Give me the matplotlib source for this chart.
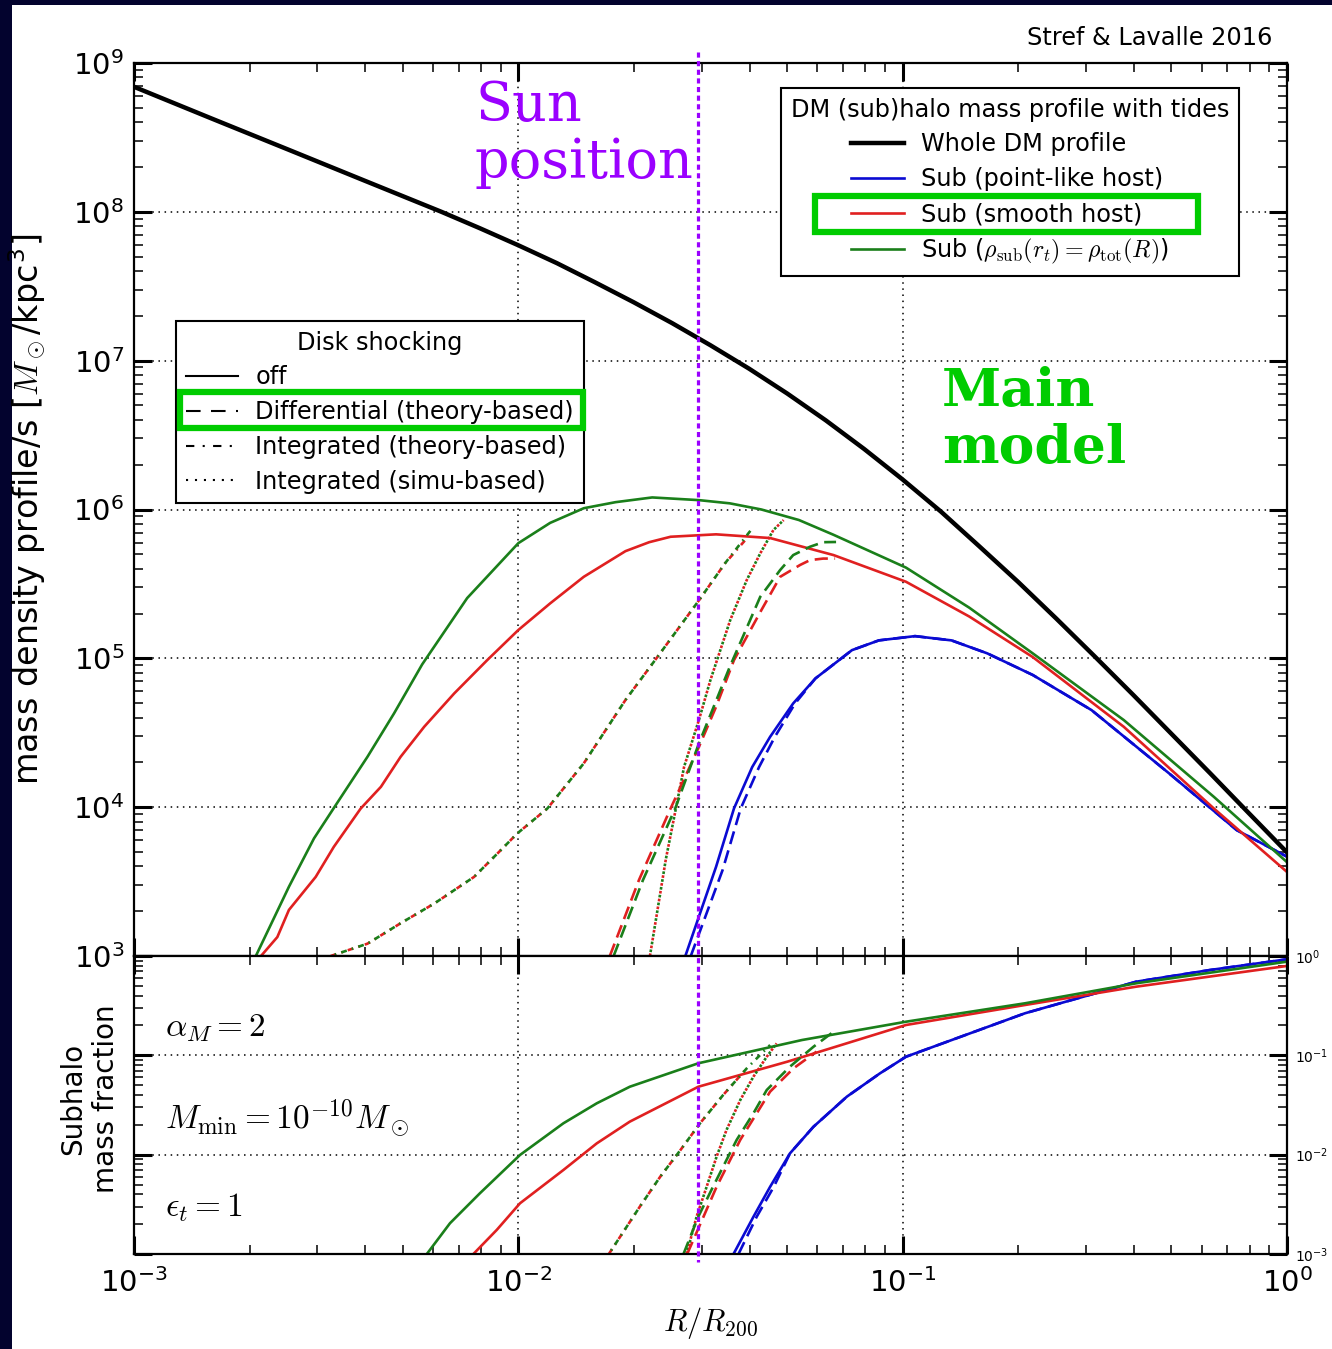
import matplotlib
matplotlib.use('Agg')
import matplotlib.pyplot as plt
import matplotlib.transforms as mtransforms
from matplotlib.patches import Rectangle
from matplotlib.lines import Line2D

plt.rcParams['font.family'] = ['DejaVu Sans']
plt.rcParams['mathtext.fontset'] = 'cm'

# ---------------- data (x = R/R200) ----------------
sun_position = 0.0294

# top panel: mass density profiles [Msun/kpc^3]
whole_x = [0.001, 0.00158, 0.00251, 0.00398, 0.00631, 0.00794, 0.01, 0.0126, 0.0158,
           0.01995, 0.0251, 0.0316, 0.0398, 0.0501, 0.0631, 0.0794, 0.1, 0.126, 0.158,
           0.1995, 0.251, 0.316, 0.398, 0.501, 0.631, 0.794, 1.0]
whole_y = [6.92e8, 4.27e8, 2.63e8, 1.62e8, 1.0e8, 7.76e7, 5.96e7, 4.52e7, 3.37e7,
           2.47e7, 1.79e7, 1.27e7, 8.85e6, 6.01e6, 3.97e6, 2.55e6, 1.59e6, 9.64e5, 5.68e5,
           3.27e5, 1.85e5, 1.03e5, 5.68e4, 3.10e4, 1.69e4, 9.16e3, 4.97e3]

green_x = [2.075e-3, 2.53e-3, 2.94e-3, 3.31e-3, 4.05e-3, 4.75e-3, 5.62e-3, 7.36e-3, 1.0e-2,
           1.21e-2, 1.48e-2, 1.79e-2, 2.23e-2, 2.95e-2, 3.55e-2, 4.29e-2, 5.37e-2, 6.61e-2,
           0.102, 0.149, 0.218, 0.376, 0.646, 1.0]
green_y = [1.0e3, 2.92e3, 6.17e3, 9.86e3, 2.18e4, 4.27e4, 9.1e4, 2.54e5, 5.94e5,
           8.13e5, 1.02e6, 1.12e6, 1.205e6, 1.156e6, 1.10e6, 1.0e6, 8.5e5, 6.76e5,
           4.07e5, 2.19e5, 1.08e5, 3.85e4, 1.17e4, 4.27e3]

red_x = [2.14e-3, 2.36e-3, 2.53e-3, 2.97e-3, 3.31e-3, 3.89e-3, 4.39e-3, 4.94e-3, 5.69e-3,
         6.81e-3, 8.30e-3, 1.0e-2, 1.21e-2, 1.48e-2, 1.90e-2, 2.19e-2, 2.49e-2, 3.27e-2,
         4.52e-2, 6.61e-2, 0.102, 0.149, 0.218, 0.376, 0.646, 1.0]
red_y = [1.0e3, 1.34e3, 2.04e3, 3.40e3, 5.41e3, 9.8e3, 1.37e4, 2.18e4, 3.47e4,
         5.81e4, 9.73e4, 1.55e5, 2.34e5, 3.53e5, 5.25e5, 6.03e5, 6.56e5, 6.81e5,
         6.43e5, 4.94e5, 3.27e5, 1.91e5, 1.02e5, 3.47e4, 9.77e3, 3.67e3]

blue_x = [2.72e-2, 3.27e-2, 3.64e-2, 4.06e-2, 4.52e-2, 5.19e-2, 5.93e-2, 7.38e-2, 8.67e-2,
          0.1077, 0.134, 0.166, 0.218, 0.310, 0.493, 0.740, 1.0]
blue_y = [1.0e3, 3.98e3, 9.8e3, 1.86e4, 2.97e4, 4.98e4, 7.33e4, 1.135e5, 1.32e5,
          1.41e5, 1.32e5, 1.08e5, 7.73e4, 4.49e4, 1.69e4, 7.01e3, 4.65e3]

blue_diff_x = [2.81e-2, 3.40e-2, 3.79e-2, 4.23e-2, 4.65e-2, 5.25e-2, 5.93e-2, 7.38e-2,
               8.67e-2, 0.1077, 0.134, 0.166, 0.218, 0.310, 0.493, 0.740, 1.0]
blue_diff_y = [1.0e3, 3.78e3, 9.8e3, 1.86e4, 2.97e4, 4.98e4, 7.33e4, 1.135e5,
               1.32e5, 1.41e5, 1.32e5, 1.08e5, 7.73e4, 4.49e4, 1.69e4, 7.01e3, 4.65e3]

red_diff_x = [1.73e-2, 2.06e-2, 2.49e-2, 2.95e-2, 3.27e-2, 3.64e-2, 4.29e-2, 4.80e-2,
              5.41e-2, 5.74e-2, 6.21e-2, 6.67e-2]
red_diff_y = [1.0e3, 3.24e3, 9.8e3, 2.54e4, 4.73e4, 9.73e4, 2.11e5, 3.53e5,
              4.24e5, 4.57e5, 4.68e5, 4.68e5]

green_diff_x = [1.77e-2, 2.11e-2, 2.56e-2, 2.95e-2, 3.55e-2, 4.26e-2, 4.80e-2, 5.19e-2,
                5.74e-2, 6.21e-2, 6.71e-2]
green_diff_y = [1.0e3, 3.24e3, 9.8e3, 2.68e4, 8.77e4, 2.59e5, 3.92e5, 4.94e5,
                5.62e5, 6.03e5, 6.05e5]

green_int_x = [3.25e-3, 4.05e-3, 4.94e-3, 6.04e-3, 7.67e-3, 9.0e-3, 9.93e-3, 1.19e-2,
               1.48e-2, 1.90e-2, 2.30e-2, 2.95e-2, 3.45e-2, 4.06e-2]
green_int_y = [1.0e3, 1.21e3, 1.66e3, 2.25e3, 3.40e3, 5.14e3, 6.65e3, 9.8e3,
               1.97e4, 5.25e4, 1.02e5, 2.45e5, 4.35e5, 7.46e5]
red_int_x = [3.25e-3, 4.05e-3, 4.94e-3, 6.04e-3, 7.67e-3, 9.0e-3, 9.93e-3, 1.19e-2,
             1.48e-2, 1.90e-2, 2.30e-2, 2.95e-2, 3.45e-2, 3.93e-2]
red_int_y = [1.0e3, 1.21e3, 1.66e3, 2.25e3, 3.40e3, 5.14e3, 6.65e3, 9.8e3,
             1.97e4, 5.25e4, 1.02e5, 2.45e5, 4.35e5, 6.4e5]

simu_x = [2.20e-2, 2.42e-2, 2.70e-2, 2.95e-2, 3.16e-2, 3.56e-2, 3.93e-2, 4.26e-2,
          4.61e-2, 4.90e-2]
simu_y = [1.0e3, 4.47e3, 1.87e4, 3.85e4, 7.13e4, 1.81e5, 3.36e5, 5.07e5,
          7.28e5, 8.49e5]

# bottom panel: subhalo mass fraction
green_fx = [5.78e-3, 6.64e-3, 7.94e-3, 1.01e-2, 1.31e-2, 1.60e-2, 1.95e-2, 2.94e-2,
            5.47e-2, 0.102, 0.208, 0.405, 1.0]
green_fy = [1.0e-3, 2.04e-3, 4.08e-3, 9.93e-3, 2.07e-2, 3.29e-2, 4.83e-2, 8.32e-2,
            0.1426, 0.218, 0.334, 0.531, 0.877]

red_fx = [7.64e-3, 8.79e-3, 1.01e-2, 1.31e-2, 1.60e-2, 1.95e-2, 2.94e-2, 5.01e-2,
          0.102, 0.208, 0.405, 1.0]
red_fy = [1.0e-3, 1.75e-3, 3.24e-3, 7.01e-3, 1.30e-2, 2.15e-2, 4.83e-2, 8.63e-2,
          0.202, 0.321, 0.491, 0.794]

blue_fx = [3.63e-2, 4.09e-2, 4.52e-2, 5.09e-2, 5.86e-2, 7.16e-2, 8.73e-2, 0.102,
           0.208, 0.405, 0.631, 1.0]
blue_fy = [1.0e-3, 2.37e-3, 4.75e-3, 1.03e-2, 1.91e-2, 3.84e-2, 6.59e-2, 9.68e-2,
           0.265, 0.551, 0.723, 0.927]

blue_diff_fx = [3.74e-2, 4.17e-2, 4.62e-2, 5.09e-2, 5.86e-2, 7.16e-2, 8.73e-2, 0.102,
                0.208, 0.405, 0.631, 1.0]
blue_diff_fy = [1.0e-3, 2.37e-3, 4.75e-3, 1.03e-2, 1.91e-2, 3.84e-2, 6.59e-2, 9.68e-2,
                0.265, 0.551, 0.723, 0.927]

green_diff_fx = [2.69e-2, 2.94e-2, 3.21e-2, 3.48e-2, 3.70e-2, 4.09e-2, 4.43e-2, 5.09e-2,
                 5.86e-2, 6.61e-2]
green_diff_fy = [1.0e-3, 2.38e-3, 4.75e-3, 8.83e-3, 1.41e-2, 2.61e-2, 4.48e-2, 7.69e-2,
                 0.122, 0.173]

red_diff_fx = [2.75e-2, 3.28e-2, 3.78e-2, 4.52e-2, 5.20e-2, 5.97e-2]
red_diff_fy = [1.0e-3, 4.75e-3, 1.41e-2, 4.31e-2, 7.40e-2, 0.109]

green_int_fx = [1.72e-2, 2.07e-2, 2.34e-2, 2.64e-2, 2.97e-2, 3.41e-2, 3.93e-2, 4.52e-2]
green_int_fy = [1.0e-3, 2.99e-3, 6.0e-3, 1.11e-2, 2.07e-2, 3.98e-2, 7.40e-2, 0.127]
red_int_fx = [1.72e-2, 2.07e-2, 2.34e-2, 2.64e-2, 2.97e-2, 3.41e-2, 3.93e-2]
red_int_fy = [1.0e-3, 2.99e-3, 6.0e-3, 1.11e-2, 2.07e-2, 3.98e-2, 7.40e-2]

simu_fx = [2.74e-2, 2.91e-2, 3.09e-2, 3.28e-2, 3.48e-2, 3.78e-2, 4.09e-2, 4.43e-2, 4.70e-2]
simu_fy = [1.0e-3, 2.38e-3, 4.75e-3, 9.55e-3, 1.77e-2, 3.55e-2, 6.10e-2, 9.68e-2, 0.132]

# ---------------- styles ----------------
c_blue = '#0a0ad2'
c_red = '#e02020'
c_green = '#1a7f1a'
c_sun = '#9a00ff'
c_hl = '#00cc00'
ls_diff = (0, (5, 2.5))
ls_int = (0, (2.2, 2, 0.6, 2))
ls_int2 = (2.6, (2.2, 2, 0.6, 2))
lw = 1.9
fs_leg = 17.3

W, H = 1332, 1349
fig = plt.figure(figsize=(W / 100, H / 100), dpi=100)
fig.patch.set_facecolor('#03032e')
fig.add_artist(Rectangle((12 / W, 0), 1 - 12 / W, 1 - 5 / H, transform=fig.transFigure,
                         facecolor='white', edgecolor='none', zorder=-10))

left = 134 / W
width = (1287 - 134) / W
ax = fig.add_axes([left, 1 - 956 / H, width, 893 / H])
axb = fig.add_axes([left, 1 - 1254 / H, width, 298 / H], sharex=ax)

# top panel curves
ax.plot(whole_x, whole_y, color='k', lw=3.2)
ax.plot(blue_x, blue_y, color=c_blue, lw=lw)
ax.plot(blue_diff_x, blue_diff_y, color=c_blue, lw=lw, ls=ls_diff)
ax.plot(red_x, red_y, color=c_red, lw=lw)
ax.plot(green_x, green_y, color=c_green, lw=lw)
ax.plot(red_int_x, red_int_y, color=c_red, lw=lw, ls=ls_int)
ax.plot(green_int_x, green_int_y, color=c_green, lw=lw, ls=ls_int2)
ax.plot(simu_x, simu_y, color=c_red, lw=lw, ls=(0, (1, 2)))
ax.plot(simu_x, simu_y, color=c_green, lw=lw, ls=(1.5, (1, 2)))
ax.plot(red_diff_x, red_diff_y, color=c_red, lw=lw, ls=ls_diff)
ax.plot(green_diff_x, green_diff_y, color=c_green, lw=lw, ls=ls_diff)

# bottom panel curves
axb.plot(blue_fx, blue_fy, color=c_blue, lw=lw)
axb.plot(blue_diff_fx, blue_diff_fy, color=c_blue, lw=lw, ls=ls_diff)
axb.plot(red_fx, red_fy, color=c_red, lw=lw)
axb.plot(green_fx, green_fy, color=c_green, lw=lw)
axb.plot(red_int_fx, red_int_fy, color=c_red, lw=lw, ls=ls_int)
axb.plot(green_int_fx, green_int_fy, color=c_green, lw=lw, ls=ls_int2)
axb.plot(simu_fx, simu_fy, color=c_red, lw=lw, ls=(0, (1, 2)))
axb.plot(simu_fx, simu_fy, color=c_green, lw=lw, ls=(1.5, (1, 2)))
axb.plot(red_diff_fx, red_diff_fy, color=c_red, lw=lw, ls=ls_diff)
axb.plot(green_diff_fx, green_diff_fy, color=c_green, lw=lw, ls=ls_diff)

for a in (ax, axb):
    a.set_xscale('log')
    a.set_yscale('log')
    a.grid(True, which='major', color='k', ls=(0, (1, 3)), lw=1.1)
    a.tick_params(which='both', direction='in', top=True, right=True)
    a.tick_params(which='major', length=13, width=2.2)
    a.tick_params(which='minor', length=6.5, width=1.1)
    for s in a.spines.values():
        s.set_linewidth(1.6)

ax.set_xlim(1e-3, 1)
ax.set_ylim(1e3, 1e9)
axb.set_ylim(1e-3, 1)

ax.tick_params(axis='x', labelbottom=False)
ax.tick_params(axis='y', labelsize=21, pad=7)
axb.tick_params(axis='x', labelsize=21, pad=10)
axb.tick_params(axis='y', labelleft=False, labelright=True, labelsize=10, pad=6)

ax.set_ylabel(r'mass density profile/s [$M_\odot$/kpc$^{\mathdefault{3}}$]', fontsize=24)
ax.yaxis.set_label_coords(-0.075, 0.5)
axb.set_ylabel('Subhalo\nmass fraction', fontsize=20, linespacing=1.25)
axb.yaxis.set_label_coords(-0.012, 0.52)
axb.set_xlabel(r'$R/R_{200}$', fontsize=22)
axb.xaxis.set_label_coords(0.5, -0.17)

# sun position line across both panels
tr = mtransforms.blended_transform_factory(ax.transData, fig.transFigure)
fig.add_artist(Line2D([sun_position, sun_position], [1 - 52 / H, 1 - 1262 / H], transform=tr,
                      color=c_sun, lw=2.3, ls=(0, (1.6, 1.1)), zorder=8))

# legends
h1 = [Line2D([], [], color='k', lw=3.2), Line2D([], [], color=c_blue, lw=lw),
      Line2D([], [], color=c_red, lw=lw), Line2D([], [], color=c_green, lw=lw)]
l1 = ['Whole DM profile', 'Sub (point-like host)', 'Sub (smooth host)',
      r'Sub ($\rho_{\rm sub}(r_t) = \rho_{\rm tot}(R)$)']
leg1 = ax.legend(h1, l1, title='DM (sub)halo mass profile with tides', loc='upper left',
                 bbox_to_anchor=(781 / W, 1 - 88 / H), bbox_transform=fig.transFigure,
                 fontsize=fs_leg, title_fontsize=fs_leg, fancybox=False, framealpha=1,
                 edgecolor='k', borderaxespad=0, handlelength=2.2, labelspacing=0.45,
                 borderpad=0.4, handletextpad=0.7)
leg1.get_frame().set_linewidth(1.5)
ax.add_artist(leg1)

h2 = [Line2D([], [], color='k', lw=1.5),
      Line2D([], [], color='k', lw=1.5, ls=(0, (7, 5))),
      Line2D([], [], color='k', lw=1.5, ls=(0, (4, 4, 1, 4))),
      Line2D([], [], color='k', lw=1.5, ls=(0, (1, 3.3)))]
l2 = ['off', 'Differential (theory-based)', 'Integrated (theory-based)',
      'Integrated (simu-based)']
leg2 = ax.legend(h2, l2, title='Disk shocking', loc='upper left',
                 bbox_to_anchor=(176 / W, 1 - 321 / H), bbox_transform=fig.transFigure,
                 fontsize=fs_leg, title_fontsize=fs_leg, fancybox=False, framealpha=1,
                 edgecolor='k', borderaxespad=0, handlelength=2.2, labelspacing=0.45,
                 borderpad=0.4, handletextpad=0.7)
leg2.get_frame().set_linewidth(1.5)

# highlight boxes
fig.add_artist(Rectangle((815 / W, 1 - 231.5 / H), 382.5 / W, 36 / H, transform=fig.transFigure,
                         fill=False, edgecolor=c_hl, lw=4.5, zorder=10))
fig.add_artist(Rectangle((180 / W, 1 - 427.7 / H), 403 / W, 35.7 / H, transform=fig.transFigure,
                         fill=False, edgecolor=c_hl, lw=4.5, zorder=10))

# texts
fig.text(1272 / W, 1 - 38 / H, 'Stref & Lavalle 2016', ha='right', va='center', fontsize=fs_leg)
fig.text(475 / W, 1 - 80 / H, 'Sun\nposition', ha='left', va='top', fontsize=39,
         family='DejaVu Serif', color=c_sun, linespacing=1.12)
fig.text(942 / W, 1 - 366 / H, 'Main\nmodel', ha='left', va='top', fontsize=38.5,
         family='DejaVu Serif', fontweight='bold', color=c_hl, linespacing=1.15)
fig.text(165 / W, 1 - 1027 / H, r'$\alpha_M = 2$', ha='left', va='center', fontsize=24)
fig.text(165 / W, 1 - 1118 / H, r'$M_{\rm min} = 10^{-10} M_\odot$', ha='left', va='center',
         fontsize=24)
fig.text(165 / W, 1 - 1207 / H, r'$\epsilon_t = 1$', ha='left', va='center', fontsize=24)

fig.savefig('out.png', dpi=100, facecolor=fig.get_facecolor())
